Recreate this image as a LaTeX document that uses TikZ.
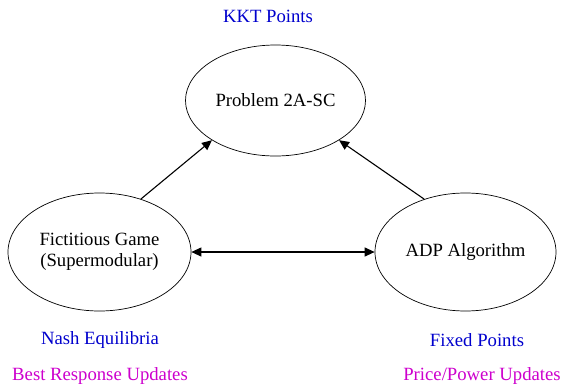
\documentclass[tikz,border=0pt]{standalone}
\usepackage{fontspec}
\setmainfont{Liberation Serif}
\usetikzlibrary{shapes.geometric,arrows.meta}
\definecolor{lblblue}{RGB}{0,0,205}
\definecolor{lblmag}{RGB}{205,0,205}
\begin{document}
\begin{tikzpicture}[x=1pt,y=-1pt,
  every node/.style={font=\fontsize{18.7}{21.5}\selectfont},
  state/.style={draw,ellipse,inner sep=0pt,line width=0.7pt},
  lblA/.style={text=lblblue},
  lblB/.style={text=lblmag},
  conn/.style={line width=1.1pt,-{Triangle[length=10pt,width=9pt]}}]
\useasboundingbox (0,0) rectangle (563,386);
\node[state,minimum width=180pt,minimum height=111pt] (top) at (275.5,100.5) {Problem 2A-SC};
\node[state,minimum width=183pt,minimum height=118pt,align=center] (left) at (99.5,252) {Fictitious Game\\(Supermodular)};
\node[state,minimum width=181pt,minimum height=118pt] (right) at (465.5,252) {ADP Algorithm};
\node[lblA] (kkt) at (268,16) {KKT Points};
\node[lblA] (nash) at (100,340) {Nash Equilibria};
\node[lblA] (fixed) at (477,340) {Fixed Points};
\node[lblB] (best) at (100,376) {Best Response Updates};
\node[lblB] (price) at (482,376) {Price/Power Updates};
\draw[conn] (left.52) -- (top.212);
\draw[conn] (right.128) -- (top.328);
\draw[conn,{Triangle[length=10pt,width=9pt]}-{Triangle[length=10pt,width=9pt]}] (left) -- (right);
\end{tikzpicture}
\end{document}
